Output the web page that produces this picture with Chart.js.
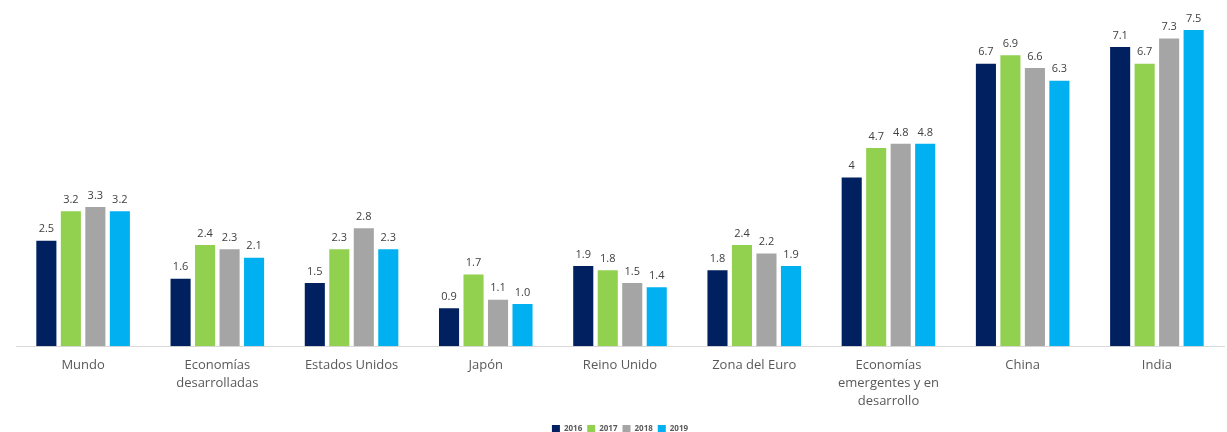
<!DOCTYPE html>
<html>
<head>
<meta charset="utf-8">
<script src="https://cdn.jsdelivr.net/npm/chart.js@4/dist/chart.umd.min.js"></script>
<style>
  html, body { margin: 0; padding: 0; background: #fff; }
  #wrap { width: 1227px; height: 432px; position: relative; }
</style>
</head>
<body>
<div id="wrap"><canvas id="growthChart"></canvas></div>
<script>
  // categories and values per year (strings keep the "4" label as printed)
  const categories = [
    'Mundo',
    ['Economías', 'desarrolladas'],
    'Estados Unidos',
    'Japón',
    'Reino Unido',
    'Zona del Euro',
    ['Economías', 'emergentes y en', 'desarrollo'],
    'China',
    'India'
  ];
  const years = ['2016', '2017', '2018', '2019'];
  const data2016 = ['2.5', '1.6', '1.5', '0.9', '1.9', '1.8', '4', '6.7', '7.1'];
  const data2017 = ['3.2', '2.4', '2.3', '1.7', '1.8', '2.4', '4.7', '6.9', '6.7'];
  const data2018 = ['3.3', '2.3', '2.8', '1.1', '1.5', '2.2', '4.8', '6.6', '7.3'];
  const data2019 = ['3.2', '2.1', '2.3', '1.0', '1.4', '1.9', '4.8', '6.3', '7.5'];
  const colors = ['#002060', '#92D050', '#A5A5A5', '#00B0F0'];

  // draws the value above each bar
  const barLabels = {
    id: 'barLabels',
    afterDatasetsDraw(chart) {
      const ctx = chart.ctx;
      ctx.save();
      ctx.font = '11px "Open Sans", sans-serif';
      ctx.fillStyle = '#404040';
      ctx.textAlign = 'center';
      ctx.textBaseline = 'bottom';
      chart.data.datasets.forEach((ds, i) => {
        chart.getDatasetMeta(i).data.forEach((bar, j) => {
          ctx.fillText(ds.data[j], bar.x, bar.y - 6);
        });
      });
      ctx.restore();
    }
  };

  const ctx = document.getElementById('growthChart').getContext('2d');
  new Chart(ctx, {
    type: 'bar',
    data: {
      labels: categories,
      datasets: [data2016, data2017, data2018, data2019].map((d, i) => ({
        label: years[i],
        data: d,
        backgroundColor: colors[i],
        borderWidth: 0,
        categoryPercentage: 0.73,
        barPercentage: 0.82
      }))
    },
    options: {
      responsive: true,
      maintainAspectRatio: false,
      animation: false,
      layout: { padding: { left: 16, right: 3, top: 9, bottom: -11 } },
      plugins: {
        legend: {
          position: 'bottom',
          labels: {
            boxWidth: 8,
            boxHeight: 8,
            padding: 5,
            color: '#595959',
            font: { size: 8, family: '"Open Sans", sans-serif', weight: 'bold' }
          }
        },
        tooltip: { enabled: false }
      },
      scales: {
        x: {
          grid: { display: false },
          border: { display: true, color: '#d9d9d9', width: 1 },
          ticks: {
            color: '#595959',
            padding: 2,
            maxRotation: 0,
            autoSkip: false,
            font: { size: 13, family: '"Open Sans", sans-serif', lineHeight: 1.38 }
          },
          afterFit(scale) { scale.height += 8; }
        },
        y: {
          display: false,
          min: 0,
          max: 8
        }
      }
    },
    plugins: [barLabels]
  });
</script>
</body>
</html>
